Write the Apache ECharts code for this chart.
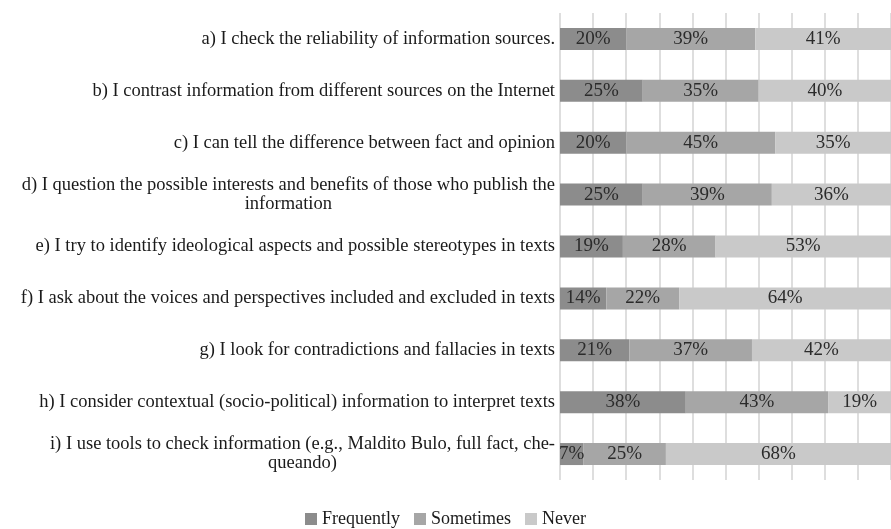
<!DOCTYPE html>
<html>
<head>
<meta charset="utf-8">
<script src="https://cdn.jsdelivr.net/npm/echarts@6/dist/echarts.min.js"></script>
<style>
  html, body { margin: 0; padding: 0; background: #fff; }
  #chart { width: 891px; height: 529px; }
</style>
</head>
<body>
<div id="chart"></div>
<script>
// survey items, top to bottom
const categories = [
  'a) I check the reliability of information sources.',
  'b) I contrast information from different sources on the Internet',
  'c) I can tell the difference between fact and opinion',
  'd) I question the possible interests and benefits of those who publish the\ninformation',
  'e) I try to identify ideological aspects and possible stereotypes in texts',
  'f) I ask about the voices and perspectives included and excluded in texts',
  'g) I look for contradictions and fallacies in texts',
  'h) I consider contextual (socio-political) information to interpret texts',
  'i) I use tools to check information (e.g., Maldito Bulo, full fact, che-\nqueando)'
];
const frequently = [20, 25, 20, 25, 19, 14, 21, 38, 7];
const sometimes = [39, 35, 45, 39, 28, 22, 37, 43, 25];
const never = [41, 40, 35, 36, 53, 64, 42, 19, 68];

const serif = '"Liberation Serif", "Times New Roman", serif';

let chart = echarts.init(document.getElementById('chart'));

function makeSeries(name, data, color) {
  return {
    name: name,
    type: 'bar',
    stack: 'total',
    barWidth: 22,
    data: data,
    itemStyle: { color: color },
    label: {
      show: true,
      position: 'inside',
      formatter: '{c}%',
      color: '#2b2b2b',
      fontFamily: serif,
      fontSize: 19
    },
    emphasis: { disabled: true }
  };
}

chart.setOption({
  animation: false,
  grid: { left: 560, right: -2, top: 13, bottom: 49, containLabel: false },
  xAxis: {
    type: 'value',
    min: 0,
    max: 100,
    interval: 10,
    axisLabel: { show: false },
    axisLine: { show: false },
    axisTick: { show: false },
    splitLine: { show: true, lineStyle: { color: '#dedede', width: 2 } }
  },
  yAxis: {
    type: 'category',
    inverse: true,
    data: categories,
    axisLine: { show: false },
    axisTick: { show: false },
    axisLabel: {
      margin: 5,
      formatter: function (v) {
        // each line centred inside the block, block right aligned
        return v.split('\n').map(l => '{c|' + l + '}').join('\n');
      },
      rich: {
        c: {
          align: 'center',
          fontFamily: serif,
          fontSize: 18.5,
          color: '#1a1a1a',
          lineHeight: 19
        }
      }
    }
  },
  legend: {
    bottom: -4,
    left: 'center',
    itemWidth: 12,
    itemHeight: 12,
    itemGap: 14,
    icon: 'rect',
    textStyle: { fontFamily: serif, fontSize: 18, color: '#1a1a1a' },
    data: ['Frequently', 'Sometimes', 'Never']
  },
  series: [
    makeSeries('Frequently', frequently, '#8c8c8c'),
    makeSeries('Sometimes', sometimes, '#a6a6a6'),
    makeSeries('Never', never, '#c9c9c9')
  ]
});
</script>
</body>
</html>
